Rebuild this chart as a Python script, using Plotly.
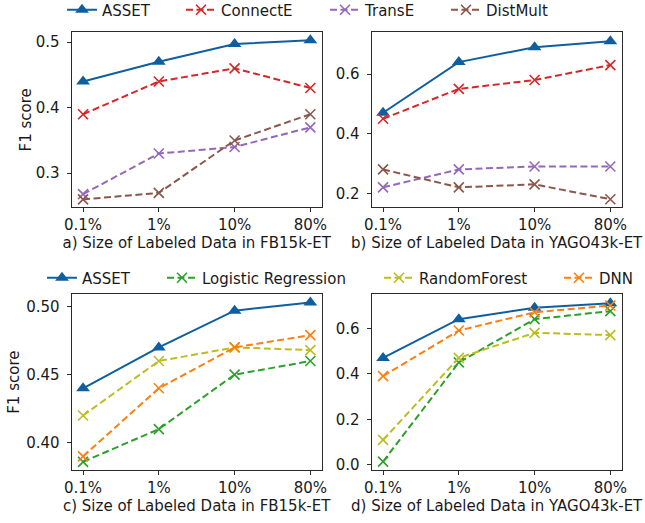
import plotly.graph_objects as go

x_labels = ["0.1%", "1%", "10%", "80%"]

# panel a (FB15k-ET, KG embedding baselines)
a_asset = [0.44, 0.47, 0.497, 0.503]
a_connecte = [0.39, 0.44, 0.46, 0.43]
a_transe = [0.268, 0.33, 0.34, 0.37]
a_distmult = [0.26, 0.27, 0.35, 0.39]
# panel b (YAGO43k-ET)
b_asset = [0.47, 0.64, 0.69, 0.71]
b_connecte = [0.45, 0.55, 0.58, 0.63]
b_transe = [0.22, 0.28, 0.29, 0.29]
b_distmult = [0.28, 0.22, 0.23, 0.18]
# panel c (FB15k-ET, classic ML baselines)
c_asset = [0.44, 0.47, 0.497, 0.503]
c_lr = [0.386, 0.41, 0.45, 0.46]
c_rf = [0.42, 0.46, 0.47, 0.468]
c_dnn = [0.39, 0.44, 0.47, 0.479]
# panel d (YAGO43k-ET)
d_asset = [0.47, 0.64, 0.69, 0.71]
d_lr = [0.015, 0.45, 0.64, 0.675]
d_rf = [0.11, 0.47, 0.58, 0.57]
d_dnn = [0.39, 0.59, 0.67, 0.70]

titles = ["a) Size of Labeled Data in FB15k-ET", "b) Size of Labeled Data in YAGO43k-ET",
          "c) Size of Labeled Data in FB15k-ET", "d) Size of Labeled Data in YAGO43k-ET"]

C_ASSET = "#0f5fa0"
COLORS = {"ConnectE": "#d62728", "TransE": "#9467bd", "DistMult": "#8c564b",
          "Logistic Regression": "#2ca02c", "RandomForest": "#bcbd22", "DNN": "#ff7f0e"}

FONT = "DejaVu Sans"
FS = 15
TC = "#1a1a1a"
W, H = 645, 523

fig = go.Figure()


def asset_trace(y, ax, legend=None):
    return go.Scatter(
        x=x_labels, y=y, name="ASSET", mode="lines+markers",
        line=dict(color=C_ASSET, width=2),
        marker=dict(symbol="triangle-up", size=12, color=C_ASSET),
        xaxis="x" + ax, yaxis="y" + ax,
        showlegend=legend is not None, legend=legend or "legend",
    )


def base_trace(y, name, ax, legend=None):
    c = COLORS[name]
    return go.Scatter(
        x=x_labels, y=y, name=name, mode="lines+markers",
        line=dict(color=c, width=2, dash="7px,3.5px"),
        marker=dict(symbol="x-thin-open", size=10, color=c, line=dict(color=c, width=1.6)),
        xaxis="x" + ax, yaxis="y" + ax,
        showlegend=legend is not None, legend=legend or "legend",
    )


# panel a -> axes "" (x, y)
fig.add_trace(asset_trace(a_asset, "", "legend"))
fig.add_trace(base_trace(a_connecte, "ConnectE", "", "legend2"))
fig.add_trace(base_trace(a_transe, "TransE", "", "legend3"))
fig.add_trace(base_trace(a_distmult, "DistMult", "", "legend4"))
# panel b
fig.add_trace(asset_trace(b_asset, "2"))
fig.add_trace(base_trace(b_connecte, "ConnectE", "2"))
fig.add_trace(base_trace(b_transe, "TransE", "2"))
fig.add_trace(base_trace(b_distmult, "DistMult", "2"))
# panel c
fig.add_trace(asset_trace(c_asset, "3", "legend5"))
fig.add_trace(base_trace(c_lr, "Logistic Regression", "3", "legend6"))
fig.add_trace(base_trace(c_rf, "RandomForest", "3", "legend7"))
fig.add_trace(base_trace(c_dnn, "DNN", "3", "legend8"))
# panel d
fig.add_trace(asset_trace(d_asset, "4"))
fig.add_trace(base_trace(d_lr, "Logistic Regression", "4"))
fig.add_trace(base_trace(d_rf, "RandomForest", "4"))
fig.add_trace(base_trace(d_dnn, "DNN", "4"))

LC = "#2a2a2a"
xdom_l = [71.7 / W, 321.7 / W]
xdom_r = [371.7 / W, 621.7 / W]
ydom_t = [(H - 207.3) / H, (H - 32.3) / H]
ydom_b = [(H - 470) / H, (H - 294.3) / H]

common = dict(showline=True, mirror=True, linecolor=LC, linewidth=1.3,
              ticks="outside", ticklen=4, tickwidth=1.2, tickcolor=LC,
              showgrid=False, zeroline=False, automargin=False,
              tickfont=dict(family=FONT, size=FS, color=TC))

xspecs = [("xaxis", xdom_l, "y"), ("xaxis2", xdom_r, "y2"),
          ("xaxis3", xdom_l, "y3"), ("xaxis4", xdom_r, "y4")]
for (name, dom, anchor), t in zip(xspecs, titles):
    fig.layout[name] = dict(common, domain=dom, anchor=anchor, type="category",
                            range=[-0.15, 3.15],
                            title=dict(text=t, standoff=3,
                                       font=dict(family=FONT, size=FS, color=TC)))

yspecs = [
    ("yaxis", ydom_t, "x", [0.248, 0.515], [0.3, 0.4, 0.5], ".1f", "F1 score", 0),
    ("yaxis2", ydom_t, "x2", [0.153, 0.740], [0.2, 0.4, 0.6], ".1f", None, 0),
    ("yaxis3", ydom_b, "x3", [0.380, 0.509], [0.40, 0.45, 0.50], ".2f", "F1 score", 2),
    ("yaxis4", ydom_b, "x4", [-0.022, 0.749], [0.0, 0.2, 0.4, 0.6], ".1f", None, 0),
]
for name, dom, anchor, rng, tv, fmt, ttl, so in yspecs:
    d = dict(common, domain=dom, anchor=anchor, range=rng, tickvals=tv, tickformat=fmt,
             ticklabelstandoff=4)
    if ttl:
        d["title"] = dict(text=ttl, standoff=so, font=dict(family=FONT, size=FS, color=TC))
    fig.layout[name] = d

# one legend per entry, positioned like the reference's legend rows
# (value = x of the entry text, y of the row centre, in px)
leg_common = dict(orientation="h", xanchor="left", yanchor="middle", bgcolor="rgba(0,0,0,0)",
                  font=dict(family=FONT, size=FS, color=TC), borderwidth=0,
                  itemwidth=30)
leg_pos = {
    "legend": (105, 10), "legend2": (224, 10), "legend3": (368, 10), "legend4": (489, 10),
    "legend5": (85, 278), "legend6": (205, 278), "legend7": (422, 278), "legend8": (602, 278),
}
for lname, (px, py) in leg_pos.items():
    fig.layout[lname] = dict(leg_common, x=(px - 43) / W, y=(H - py) / H)

fig.update_layout(
    width=W, height=H, margin=dict(l=0, r=0, t=0, b=0, autoexpand=False),
    paper_bgcolor="white", plot_bgcolor="white",
    font=dict(family=FONT, size=FS, color=TC),
)

fig.write_html("out.html", config={"displayModeBar": False},
               post_script="document.body.style.margin='0px';")
